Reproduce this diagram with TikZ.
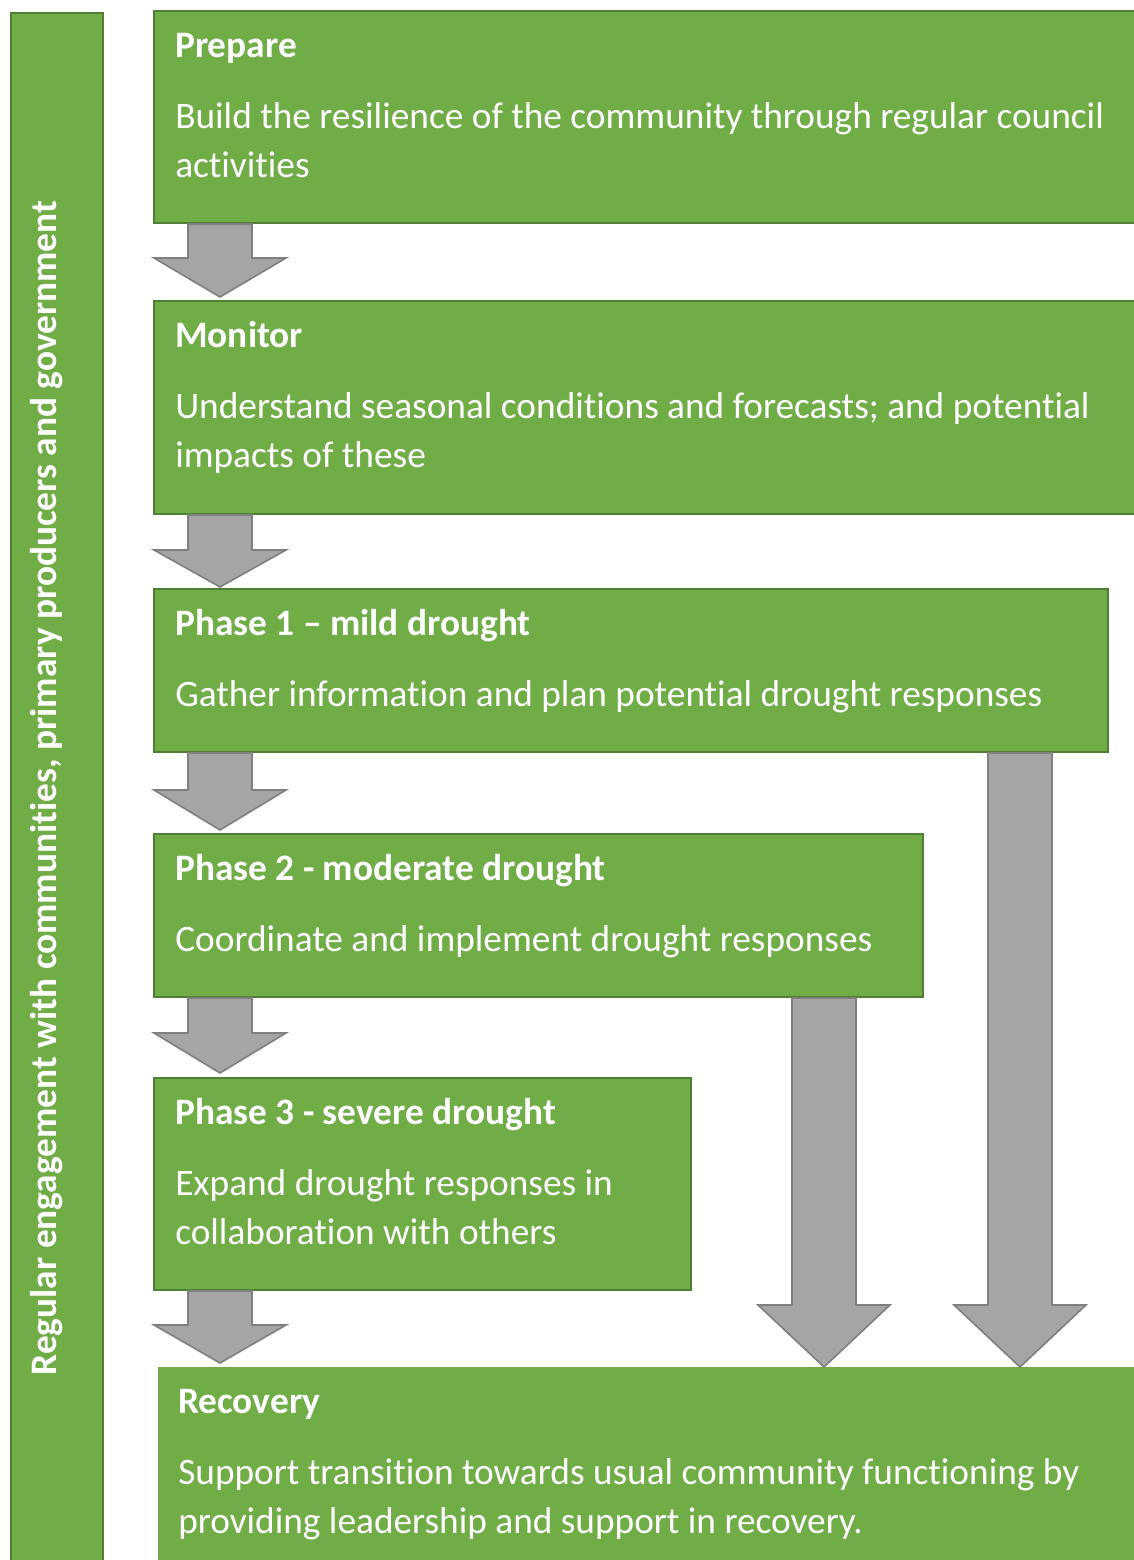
\documentclass[tikz,border=0pt]{standalone}
\usepackage{fontspec}
\setmainfont{Carlito}[Ligatures=NoCommon]
\usetikzlibrary{calc,positioning}

\definecolor{boxgreen}{HTML}{70AD47}
\definecolor{boxedge}{HTML}{507E32}
\definecolor{arrowfill}{HTML}{A5A5A5}
\definecolor{arrowedge}{HTML}{7F7F7F}

\newlength\pxu
\setlength\pxu{0.75pt}

% block arrow pointing down: top of shaft, tip, length of head
\newcommand{\blockarrow}[3]{%
  \draw[blockarrow] ($(#1)+(-32,0)$) -- ($(#1)+(32,0)$) -- ($(#2)+(32,-#3)$)
    -- ($(#2)+(66,-#3)$) -- (#2) -- ($(#2)+(-66,-#3)$) -- ($(#2)+(-32,-#3)$) -- cycle;}

\tikzset{
  stagebox/.style={draw=boxedge, line width=1.5pt, fill=boxgreen, anchor=north west, inner sep=0pt},
  plainbox/.style={fill=boxgreen, anchor=north west, inner sep=0pt},
  head/.style={anchor=base west, inner sep=0pt, text=white, font=\bfseries\fontsize{28}{34}\selectfont},
  body/.style={anchor=base west, inner sep=0pt, text=white, align=left, font=\fontsize{28}{36.75}\selectfont},
  body two/.style={body, yshift=-36.75pt},
  sidetext/.style={anchor=base, inner sep=0pt, text=white, rotate=90, font=\bfseries\fontsize{28}{34}\selectfont},
  blockarrow/.style={draw=arrowedge, line width=1.2pt, fill=arrowfill, line join=miter},
}

\begin{document}
\begin{tikzpicture}[x=\pxu, y=-\pxu]
\useasboundingbox (0,0) rectangle (1134,1560);
\clip (0,0) rectangle (1134,1560);

% side bar
\node[stagebox, minimum width=92*\pxu, minimum height=1580*\pxu] (side) at (10,12) {};
\node[sidetext] (side-t) at (56,788) {Regular engagement with communities, primary producers and government};

% stages
\node[stagebox, minimum width=1000*\pxu, minimum height=212*\pxu] (prep) at (153,10) {};
\node[head] (prep-t) at ($(prep.north west)+(22,47)$) {Prepare};
\node[body two] (prep-b) at ($(prep.north west)+(22,118)$) {Build the resilience of the community through regular council\\activities};

\node[stagebox, minimum width=1000*\pxu, minimum height=213*\pxu] (mon) at (153,300) {};
\node[head] (mon-t) at ($(mon.north west)+(22,47)$) {Monitor};
\node[body two] (mon-b) at ($(mon.north west)+(22,118)$) {Understand seasonal conditions and forecasts; and potential\\impacts of these};

\node[stagebox, minimum width=954*\pxu, minimum height=163*\pxu] (p1) at (153,588) {};
\node[head] (p1-t) at ($(p1.north west)+(22,47)$) {Phase 1 – mild drought};
\node[body] (p1-b) at ($(p1.north west)+(22,118)$) {Gather information and plan potential drought responses};

\node[stagebox, minimum width=769*\pxu, minimum height=163*\pxu] (p2) at (153,833) {};
\node[head] (p2-t) at ($(p2.north west)+(22,47)$) {Phase 2 - moderate drought};
\node[body] (p2-b) at ($(p2.north west)+(22,118)$) {Coordinate and implement drought responses};

\node[stagebox, minimum width=537*\pxu, minimum height=212*\pxu] (p3) at (153,1077) {};
\node[head] (p3-t) at ($(p3.north west)+(22,47)$) {Phase 3 - severe drought};
\node[body two] (p3-b) at ($(p3.north west)+(22,118)$) {Expand drought responses in\\collaboration with others};

\node[plainbox, minimum width=1000*\pxu, minimum height=220*\pxu] (rec) at (158,1367) {};
\node[head] (rec-t) at ($(rec.north west)+(20,46)$) {Recovery};
\node[body two] (rec-b) at ($(rec.north west)+(20,117)$) {Support transition towards usual community functioning by\\providing leadership and support in recovery.};

% arrows between stages
\blockarrow{$(prep.south west)+(67,0)$}{$(mon.north west)+(67,-3)$}{39}
\blockarrow{$(mon.south west)+(67,0)$}{$(p1.north west)+(67,-1)$}{37}
\blockarrow{$(p1.south west)+(67,0)$}{$(p2.north west)+(67,-3)$}{40}
\blockarrow{$(p2.south west)+(67,0)$}{$(p3.north west)+(67,-4)$}{40}
\blockarrow{$(p3.south west)+(67,0)$}{$(rec.north west)+(62,-4)$}{38}

% long arrows straight to recovery
\coordinate (skip2) at ($(p2.south east)+(-100,0)$);
\coordinate (skip1) at ($(p1.south east)+(-89,0)$);
\blockarrow{skip2}{skip2 |- rec.north}{62}
\blockarrow{skip1}{skip1 |- rec.north}{62}
\end{tikzpicture}
\end{document}
